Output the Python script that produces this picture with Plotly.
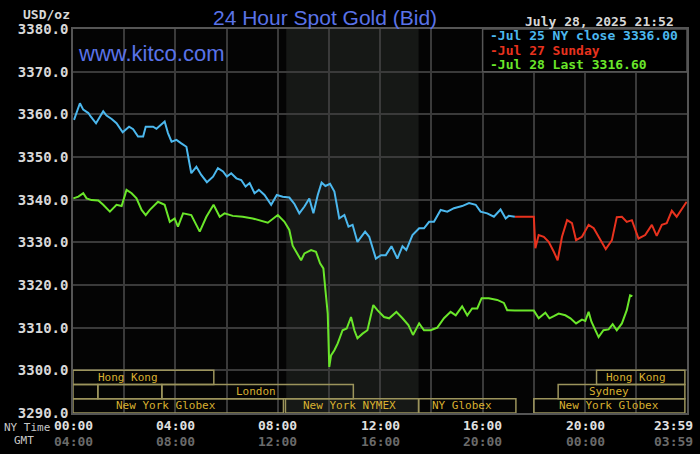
import plotly.graph_objects as go

# --- data (NY time in hours, price in USD/oz) ---
jul25_t = [0.04, 0.27, 0.40, 0.60, 0.69, 0.90, 1.18, 1.31, 1.51, 1.70, 1.94, 2.19, 2.35, 2.54, 2.74,
           2.84, 3.13, 3.26, 3.58, 3.71, 3.85, 4.04, 4.23, 4.43, 4.62, 4.82, 5.01, 5.23, 5.47, 5.66,
           5.86, 6.01, 6.18, 6.38, 6.57, 6.74, 6.90, 7.09, 7.26, 7.48, 7.74, 7.96, 8.19, 8.45, 8.65,
           8.84, 9.04, 9.23, 9.39, 9.56, 9.71, 9.86, 10.04, 10.21, 10.40, 10.60, 10.76, 10.92, 11.11,
           11.41, 11.57, 11.83, 12.03, 12.22, 12.44, 12.67, 12.87, 13.02, 13.26, 13.52, 13.71, 13.91,
           14.10, 14.36, 14.62, 14.88, 15.20, 15.47, 15.73, 15.92, 16.18, 16.44, 16.70, 16.90, 17.02,
           17.26]
jul25_p = [3358.7, 3362.6, 3361.1, 3360.3, 3359.5, 3357.9, 3360.7, 3359.7, 3358.9, 3357.9, 3355.8,
           3357.1, 3356.5, 3354.8, 3354.8, 3357.1, 3357.1, 3356.6, 3358.3, 3355.6, 3353.6, 3354.0,
           3353.2, 3352.4, 3346.2, 3347.7, 3345.8, 3344.1, 3345.4, 3347.4, 3346.6, 3345.4, 3346.2,
           3345.0, 3344.6, 3343.1, 3343.9, 3341.5, 3342.3, 3341.1, 3338.8, 3341.1, 3340.7, 3340.5,
           3339.0, 3336.8, 3338.4, 3340.3, 3336.8, 3341.1, 3344.0, 3343.2, 3343.7, 3341.9, 3335.6,
           3336.4, 3333.7, 3334.1, 3330.1, 3332.5, 3331.3, 3326.2, 3327.0, 3327.0, 3329.1, 3326.2,
           3329.1, 3328.2, 3331.7, 3333.3, 3333.3, 3334.8, 3334.8, 3337.6, 3337.2, 3338.0, 3338.5,
           3339.2, 3338.8, 3337.2, 3336.8, 3336.0, 3337.7, 3335.6, 3336.2, 3336.0]

jul27_t = [17.26, 18.00, 18.06, 18.19, 18.39, 18.58, 18.78, 18.93, 19.10, 19.30, 19.49, 19.65, 19.88,
           20.14, 20.34, 20.53, 20.81, 21.05, 21.24, 21.44, 21.63, 21.83, 22.09, 22.35, 22.61, 22.80,
           23.00, 23.19, 23.39, 23.58, 23.78, 23.97]
jul27_p = [3336.0, 3336.0, 3328.6, 3331.7, 3331.3, 3330.1, 3327.8, 3325.8, 3331.3, 3335.2, 3334.5,
           3330.5, 3331.3, 3334.1, 3333.3, 3331.3, 3328.4, 3330.5, 3335.9, 3336.0, 3334.8, 3335.2,
           3330.9, 3331.7, 3334.1, 3331.5, 3334.1, 3334.5, 3337.4, 3336.0, 3337.7, 3339.5]

jul28_t = [0.01, 0.21, 0.40, 0.53, 0.73, 0.99, 1.18, 1.44, 1.70, 1.90, 2.09, 2.29, 2.48, 2.68, 2.84,
           3.00, 3.32, 3.58, 3.78, 3.97, 4.10, 4.30, 4.62, 4.95, 5.21, 5.49, 5.73, 5.92, 6.24, 6.63,
           7.02, 7.35, 7.61, 8.00, 8.26, 8.45, 8.58, 8.91, 9.04, 9.30, 9.49, 9.65, 9.78, 9.86, 9.95,
           10.01, 10.08, 10.21, 10.34, 10.53, 10.69, 10.86, 10.99, 11.11, 11.31, 11.50, 11.73, 11.89,
           12.15, 12.35, 12.63, 12.87, 13.10, 13.28, 13.52, 13.71, 13.97, 14.23, 14.49, 14.75, 14.95,
           15.20, 15.40, 15.59, 15.79, 15.96, 16.24, 16.57, 16.83, 16.96, 17.26, 18.00, 18.19, 18.45,
           18.61, 18.78, 18.97, 19.23, 19.43, 19.65, 19.88, 20.01, 20.14, 20.25, 20.53, 20.72, 20.92,
           21.08, 21.24, 21.44, 21.63, 21.76, 21.85]
jul28_p = [3340.3, 3340.7, 3341.5, 3340.3, 3339.9, 3339.8, 3338.8, 3337.2, 3338.8, 3338.5, 3342.3,
           3341.5, 3340.3, 3337.6, 3336.4, 3337.6, 3339.5, 3338.8, 3334.8, 3335.6, 3333.7, 3336.8,
           3336.4, 3332.5, 3336.0, 3338.8, 3336.0, 3336.8, 3336.2, 3336.0, 3335.6, 3335.1, 3334.6,
           3336.4, 3334.8, 3332.9, 3329.2, 3325.8, 3327.4, 3328.2, 3327.8, 3325.1, 3323.9, 3318.8,
           3313.3, 3300.8, 3303.5, 3304.7, 3306.3, 3309.4, 3309.8, 3312.5, 3309.4, 3307.5, 3308.6,
           3309.4, 3315.3, 3314.1, 3312.5, 3312.2, 3313.7, 3312.2, 3310.6, 3308.3, 3311.0, 3309.4,
           3309.4, 3310.0, 3312.2, 3313.7, 3312.9, 3315.0, 3312.9, 3314.5, 3314.5, 3316.9, 3316.9,
           3316.5, 3315.8, 3314.1, 3314.0, 3314.0, 3312.2, 3313.5, 3312.2, 3312.7, 3313.3, 3312.9,
           3312.2, 3311.0, 3311.9, 3311.6, 3313.7, 3311.4, 3307.8, 3309.4, 3309.6, 3310.8, 3309.4,
           3311.0, 3314.1, 3317.6, 3317.4]

ny_ticks = [0, 4, 8, 12, 16, 20, 23.45]
ny_labels = ['00:00', '04:00', '08:00', '12:00', '16:00', '20:00', '23:59']
gmt_labels = ['04:00', '08:00', '12:00', '16:00', '20:00', '00:00', '03:59']

# trading sessions: (row, start, end, label, label position)
sessions = [
    (0, 0.0, 5.5, 'Hong Kong', 2.14),
    (0, 20.45, 23.9, 'Hong Kong', 22.0),
    (1, 0.0, 0.97, '', None),
    (1, 0.97, 3.47, '', None),
    (1, 3.47, 10.95, 'London', 7.16),
    (1, 18.95, 23.9, 'Sydney', 20.95),
    (2, 0.0, 8.22, 'New York Globex', 3.65),
    (2, 8.3, 13.5, 'New York NYMEX', 10.79),
    (2, 13.5, 17.3, 'NY Globex', 15.19),
    (2, 18.0, 23.9, 'New York Globex', 20.95),
]

BLUE = '#4cb8ee'
RED = '#e8321e'
GREEN = '#6ae62a'
MONO = 'DejaVu Sans Mono'
X_END = 23.983


def px(x_pixel, y_pixel):
    # page pixel -> paper coordinates (plot area is 73..689 x 29..413)
    return (x_pixel - 73) / 616, (413 - y_pixel) / 384


def label(x_pixel, y_pixel, text, font, xanchor='center'):
    xp, yp = px(x_pixel, y_pixel)
    fig.add_annotation(xref='paper', yref='paper', x=xp, y=yp, xanchor=xanchor, yanchor='middle',
                       text=text, showarrow=False, font=font)


fig = go.Figure()
fig.add_trace(go.Scatter(x=jul25_t, y=jul25_p, mode='lines', line=dict(color=BLUE, width=2)))
fig.add_trace(go.Scatter(x=jul27_t, y=jul27_p, mode='lines', line=dict(color=RED, width=2)))
fig.add_trace(go.Scatter(x=jul28_t, y=jul28_p, mode='lines', line=dict(color=GREEN, width=2)))

# NYMEX floor session shading
fig.add_shape(type='rect', xref='x', yref='paper', x0=8.33, x1=13.5, y0=0, y1=1,
              fillcolor='#161816', line_width=0, layer='below')

# session boxes along the bottom
row_h = 10 / 3
for row, s0, s1, name, lx in sessions:
    top = 3300 - row * row_h
    fig.add_shape(type='rect', x0=s0, x1=s1, y0=top - row_h, y1=top,
                  line=dict(color='#9c945c', width=1.5), fillcolor='rgba(0,0,0,0)')
    if name:
        fig.add_annotation(x=lx, y=top - row_h / 2, xanchor='center', yanchor='middle', text=name,
                           showarrow=False, font=dict(family=MONO, size=11, color='#d8b030'))

# legend box in top right cell
fig.add_shape(type='rect', x0=16, x1=X_END, y0=3370, y1=3380,
              fillcolor='#000000', line=dict(color='#555555', width=1.5))
legend_rows = [('-Jul 25 NY close 3336.00', BLUE), ('-Jul 27 Sunday', RED), ('-Jul 28 Last 3316.60', GREEN)]
for i, (txt, col) in enumerate(legend_rows):
    label(489, 36 + 14.3 * i, txt, dict(family=MONO, size=13, color=col, weight='bold'), 'left')

# x tick labels: NY time and GMT
for t, ny, gmt in zip(ny_ticks, ny_labels, gmt_labels):
    xpix = 73 + t / X_END * 616
    label(xpix, 425, ny, dict(family=MONO, size=13, color='#e0e0e0', weight='bold'))
    label(xpix, 441, gmt, dict(family=MONO, size=13, color='#6a6a6a', weight='bold'))

label(2, 427, 'NY Time', dict(family=MONO, size=11, color='#c8c8c8'), 'left')
label(12, 440, 'GMT', dict(family=MONO, size=11, color='#c8c8c8'), 'left')

# titles and header texts
label(326, 17, '24 Hour Spot Gold (Bid)', dict(family='Liberation Sans', size=21, color='#5a73e8'))
label(76, 53, 'www.kitco.com', dict(family='Liberation Sans', size=22, color='#5a73e8'), 'left')
label(21, 14, 'USD/oz', dict(family=MONO, size=13, color='#d8d8d8', weight='bold'), 'left')
label(678, 22, 'July 28, 2025 21:52', dict(family=MONO, size=13, color='#d8d8d8', weight='bold'), 'right')

fig.update_layout(
    width=700, height=454,
    margin=dict(l=73, r=11, t=29, b=41),
    paper_bgcolor='#000000',
    plot_bgcolor='#040404',
    showlegend=False,
)
fig.update_xaxes(range=[0, X_END], dtick=2, tick0=0, showticklabels=False,
                 showgrid=True, gridcolor='#3a3a3a', gridwidth=1.5, zeroline=False,
                 showline=True, linecolor='#555555', linewidth=1.5, mirror=True)
fig.update_yaxes(range=[3290, 3380], dtick=10, tickformat='.1f',
                 tickfont=dict(family=MONO, size=14, color='#d8d8d8', weight='bold'),
                 showgrid=True, gridcolor='#3a3a3a', gridwidth=1.5, zeroline=False,
                 showline=True, linecolor='#555555', linewidth=1.5, mirror=True)

# remove the page margin so the figure fills the window
fig.write_html('out.html', config={'displayModeBar': False},
               post_script="document.body.style.margin='0';document.body.style.background='#000';")
